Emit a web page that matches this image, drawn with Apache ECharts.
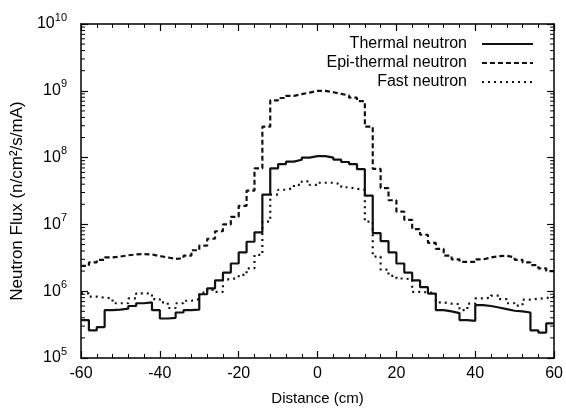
<!DOCTYPE html>
<html>
<head>
<meta charset="utf-8">
<script src="https://cdn.jsdelivr.net/npm/echarts@6/dist/echarts.min.js"></script>
<style>
html,body{margin:0;padding:0;background:#fff;}
#chart{width:566px;height:413px;}
</style>
</head>
<body>
<div id="chart"></div>
<script>
// Left edges of the 2 cm bins (cm); the last bin ends at 60
const binLeft = [-60,-58,-56,-54,-52,-50,-48,-46,-44,-42,-40,-38,-36,-34,-32,-30,-28,-26,-24,-22,
                 -20,-18,-16,-14,-12,-10,-8,-6,-4,-2,0,2,4,6,8,10,12,14,16,18,
                 20,22,24,26,28,30,32,34,36,38,40,42,44,46,48,50,52,54,56,58];
const binEnd = 60;

const thermal = [3.7e5,2.6e5,2.9e5,5.2e5,5.3e5,5.5e5,6.0e5,6.6e5,6.8e5,5.2e5,
                 3.9e5,4.0e5,4.8e5,5.2e5,5.3e5,9.0e5,1.1e6,1.45e6,1.9e6,2.6e6,
                 3.8e6,5.5e6,7.6e6,2.8e7,6.9e7,8.0e7,8.7e7,9.3e7,1.0e8,1.05e8,
                 1.05e8,1.0e8,9.3e7,8.6e7,8.0e7,6.7e7,2.7e7,7.4e6,5.6e6,3.8e6,
                 2.6e6,1.9e6,1.45e6,1.15e6,9.2e5,5.2e5,5.0e5,4.7e5,3.7e5,3.6e5,
                 6.2e5,6.0e5,5.7e5,5.4e5,5.1e5,5.0e5,4.8e5,2.6e5,2.4e5,3.3e5];

const epithermal = [2.4e6,2.7e6,2.95e6,3.2e6,3.3e6,3.45e6,3.55e6,3.6e6,3.55e6,3.35e6,
                    3.2e6,3.05e6,3.1e6,3.4e6,4.1e6,4.8e6,6.1e6,7.9e6,1.0e7,1.3e7,
                    1.9e7,3.2e7,6.9e7,2.9e8,7.2e8,7.8e8,8.4e8,8.9e8,9.4e8,1.0e9,
                    1.0e9,9.5e8,9.0e8,8.5e8,7.9e8,7.0e8,2.9e8,6.8e7,3.5e7,2.3e7,
                    1.55e7,1.17e7,8.5e6,7.0e6,5.3e6,4.3e6,3.4e6,3.0e6,2.75e6,2.75e6,
                    3.0e6,3.2e6,3.35e6,3.4e6,3.2e6,2.95e6,2.7e6,2.45e6,2.2e6,2.0e6];

const fast = [9.3e5,8.3e5,8.0e5,7.8e5,6.6e5,6.6e5,7.8e5,9.3e5,9.2e5,7.6e5,
              6.8e5,5.6e5,6.6e5,7.2e5,7.6e5,9.5e5,1.05e6,9.8e5,1.5e6,1.6e6,
              1.75e6,2.2e6,3.5e6,1.1e7,2.8e7,3.3e7,3.5e7,3.9e7,4.4e7,3.9e7,
              4.2e7,4.2e7,4.0e7,3.6e7,3.4e7,3.3e7,1.1e7,3.3e6,2.1e6,1.7e6,
              1.55e6,1.5e6,9.8e5,9.6e5,9.4e5,6.8e5,6.5e5,6.4e5,5.2e5,6.5e5,
              7.8e5,8.0e5,8.6e5,7.6e5,6.6e5,6.1e5,7.5e5,7.7e5,7.9e5,8.2e5];

const seriesNames = ['Thermal neutron','Epi-thermal neutron','Fast neutron'];
const xTickMin = -60, xTickMax = 60, xTickStep = 20;
const yMin = 1e5, yMax = 1e10;
const minorDecades = [1e5,1e6,1e7,1e8,1e9];
const minorMultipliers = [2,3,4,5,6,7,8,9];

function stepData(vals){
  const d = binLeft.map((x,i)=>[x, vals[i]]);
  d.push([binEnd, vals[vals.length-1]]);
  return d;
}
const minorVals = [];
minorDecades.forEach(d => minorMultipliers.forEach(m => minorVals.push([xTickMin, d*m])));

const FONT = '"Liberation Sans", Arial, sans-serif';
const chart = echarts.init(document.getElementById('chart'), null, {renderer:'canvas'});

const axisLineStyle = {show:true, onZero:false, lineStyle:{color:'#000', width:1.5}};
const xAxisCommon = {
  type:'value', min:xTickMin, max:xTickMax, interval:xTickStep,
  axisLine: axisLineStyle,
  axisTick:{show:true, inside:true, length:7, lineStyle:{color:'#000', width:1.2}},
  minorTick:{show:true, splitNumber:5, length:4, lineStyle:{color:'#000', width:1}},
  splitLine:{show:false}, minorSplitLine:{show:false}
};
const yAxisCommon = {
  type:'log', logBase:10, min:yMin, max:yMax,
  axisLine: axisLineStyle,
  axisTick:{show:true, inside:true, length:7, lineStyle:{color:'#000', width:1.2}},
  splitLine:{show:false}
};

chart.setOption({
  animation:false,
  backgroundColor:'#fff',
  grid:{left:81, right:11, top:24, bottom:55, containLabel:false},
  legend:{
    orient:'vertical', right:27, top:31, align:'right',
    itemWidth:51, itemHeight:14, itemGap:3,
    data:seriesNames,
    itemStyle:{color:'rgba(0,0,0,0)', borderColor:'rgba(0,0,0,0)', borderWidth:0},
    textStyle:{fontFamily:FONT, fontSize:16, color:'#000', padding:[0,10,0,0]},
    selectedMode:false
  },
  xAxis:[
    Object.assign({}, xAxisCommon, {
      position:'bottom',
      name:'Distance (cm)', nameLocation:'middle', nameGap:33,
      nameTextStyle:{fontFamily:FONT, fontSize:15, color:'#000'},
      axisLabel:{fontFamily:FONT, fontSize:16, color:'#000', margin:8}
    }),
    Object.assign({}, xAxisCommon, {position:'top', axisLabel:{show:false}})
  ],
  yAxis:[
    Object.assign({}, yAxisCommon, {
      position:'left',
      name:'Neutron Flux (n/cm²/s/mA)', nameLocation:'middle', nameGap:51,
      nameTextStyle:{fontFamily:FONT, fontSize:17, color:'#000', padding:[0,0,0,-20]},
      axisLabel:{
        margin:14, fontFamily:FONT, color:'#000',
        formatter: v => '{b|10}{e|' + Math.round(Math.log10(v)) + '}',
        rich:{
          b:{fontFamily:FONT, fontSize:16, color:'#000', lineHeight:24},
          e:{fontFamily:FONT, fontSize:11, color:'#000', verticalAlign:'top', lineHeight:24}
        }
      }
    }),
    Object.assign({}, yAxisCommon, {position:'right', axisLabel:{show:false}})
  ],
  series:[
    {
      name:seriesNames[0], type:'line', step:'end', data:stepData(thermal),
      showSymbol:false, symbol:'none', xAxisIndex:0, yAxisIndex:0,
      lineStyle:{color:'#111', width:2.2, type:'solid'}, itemStyle:{color:'#111'}, z:3
    },
    {
      name:seriesNames[1], type:'line', step:'end', data:stepData(epithermal),
      showSymbol:false, symbol:'none', xAxisIndex:0, yAxisIndex:0,
      lineStyle:{color:'#111', width:2.2, type:[5,3]}, itemStyle:{color:'#111'}, z:3
    },
    {
      name:seriesNames[2], type:'line', step:'end', data:stepData(fast),
      showSymbol:false, symbol:'none', xAxisIndex:0, yAxisIndex:0,
      lineStyle:{color:'#111', width:2.2, type:[2,4]}, itemStyle:{color:'#111'}, z:3
    },
    {
      type:'custom', data:minorVals, xAxisIndex:0, yAxisIndex:0, silent:true, clip:false, z:4,
      encode:{x:0, y:1},
      renderItem:(params, api) => {
        const l = api.coord([xTickMin, api.value(1)]);
        const r = api.coord([xTickMax, api.value(1)]);
        return {type:'group', children:[
          {type:'line', shape:{x1:l[0], y1:l[1], x2:l[0]+4, y2:l[1]}, style:{stroke:'#000', lineWidth:1}},
          {type:'line', shape:{x1:r[0]-4, y1:r[1], x2:r[0], y2:r[1]}, style:{stroke:'#000', lineWidth:1}}
        ]};
      }
    }
  ]
});
</script>
</body>
</html>
